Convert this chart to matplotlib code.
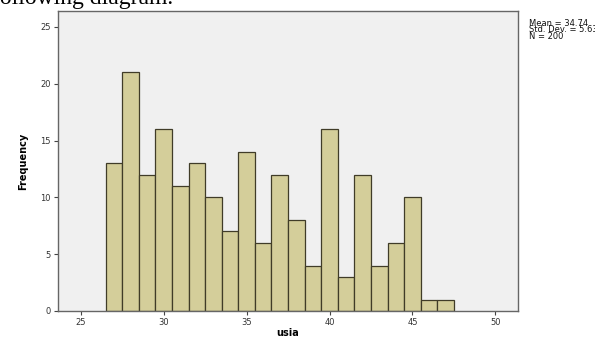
import numpy as np
import matplotlib
matplotlib.use("Agg")
import matplotlib.pyplot as plt

# histogram of usia (age), one bin per year
ages = [27, 28, 29, 30, 31, 32, 33, 34, 35, 36, 37, 38, 39, 40, 41, 42, 43, 44, 45, 46, 47]
freq = [13, 21, 12, 16, 11, 13, 10, 7, 14, 6, 12, 8, 4, 16, 3, 12, 4, 6, 10, 1, 1]
xticks = [25, 30, 35, 40, 45, 50]
yticks = [0, 5, 10, 15, 20, 25]

a = np.array(ages, float); f = np.array(freq, float)
n = int(f.sum())
mean = (a * f).sum() / n
sd = np.sqrt(((a - mean) ** 2 * f).sum() / (n - 1))

fig = plt.figure(figsize=(5.95, 3.4), dpi=100)
ax = fig.add_axes([58 / 595, 1 - 311 / 340, 460 / 595, 300 / 340])
ax.set_facecolor("#f0f0f0")
ax.bar(ages, freq, width=1.0, color="#d4ce9a", edgecolor="#403c28", linewidth=0.9)
ax.set_xlim(23.63, 51.36); ax.set_ylim(0, 26.4)
ax.set_xticks(xticks); ax.set_yticks(yticks)
ax.tick_params(labelsize=6, colors="#444444", length=3, width=0.8, labelcolor="#333333", pad=2)
for s in ax.spines.values():
    s.set_color("#666666"); s.set_linewidth(1.0)
ax.set_xlabel("usia", fontsize=7, fontweight="bold", labelpad=1)
ax.set_ylabel("Frequency", fontsize=7, fontweight="bold", labelpad=9)

fig.text(529 / 595, 1 - 30 / 340, f"Mean = {mean:.2f}\nStd. Dev. = {sd:.3f}\nN = {n}",
         fontsize=6, va="center", ha="left", linespacing=0.7, color="#111111")
# cropped caption line from the source page
fig.text(-8 / 595, 1 - 4 / 340, "following diagram.", family="Liberation Serif", fontsize=17,
         va="baseline", ha="left")
fig.savefig("out.png", dpi=100)
